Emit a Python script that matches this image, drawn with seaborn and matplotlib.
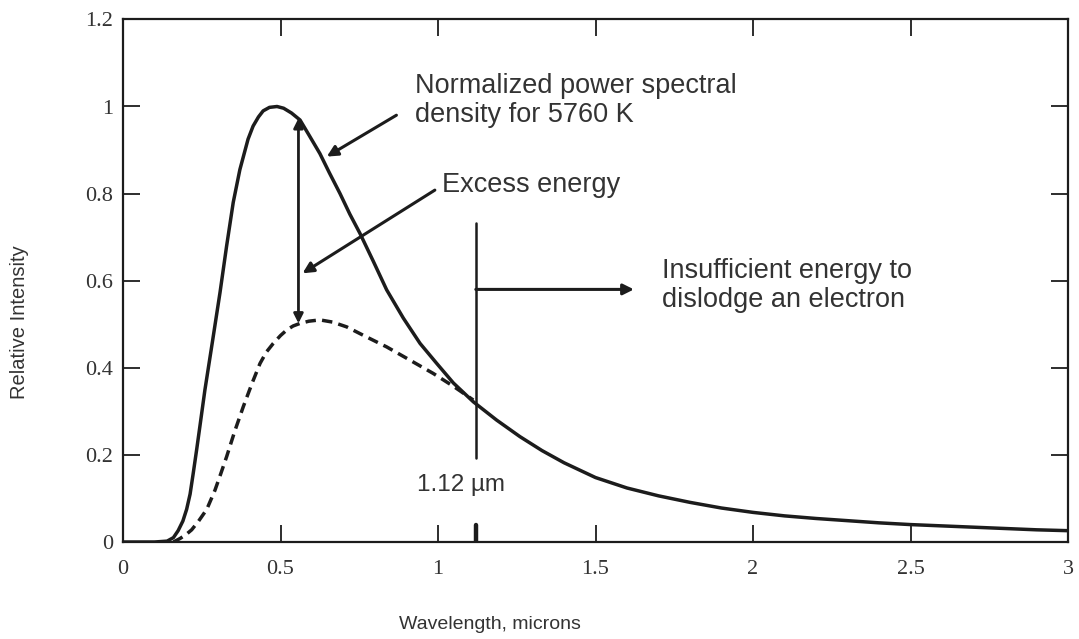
import matplotlib
matplotlib.use("Agg")
import matplotlib.pyplot as plt
import seaborn as sns

# ---- data ----
solid_x = [0.0, 0.05, 0.10, 0.14, 0.16, 0.175, 0.19, 0.202, 0.213, 0.223, 0.234, 0.244,
           0.26, 0.285, 0.308, 0.329, 0.35, 0.371, 0.397, 0.413, 0.43, 0.445, 0.465,
           0.489, 0.51, 0.535, 0.562, 0.59, 0.625, 0.655, 0.689, 0.72, 0.752, 0.795,
           0.837, 0.89, 0.943, 0.996, 1.049, 1.112, 1.186, 1.26, 1.33, 1.4, 1.5, 1.6,
           1.7, 1.8, 1.9, 2.0, 2.1, 2.2, 2.3, 2.4, 2.5, 2.6, 2.7, 2.8, 2.9, 3.0]
solid_y = [0.0, 0.0, 0.0, 0.002, 0.010, 0.026, 0.048, 0.075, 0.11, 0.158, 0.213, 0.265,
           0.349, 0.465, 0.573, 0.68, 0.78, 0.855, 0.925, 0.955, 0.976, 0.99, 0.998,
           1.0, 0.996, 0.985, 0.969, 0.935, 0.892, 0.848, 0.80, 0.753, 0.709, 0.644,
           0.579, 0.514, 0.456, 0.41, 0.365, 0.322, 0.28, 0.242, 0.21, 0.182, 0.148, 0.124,
           0.106, 0.091, 0.078, 0.068, 0.060, 0.054, 0.049, 0.044, 0.040, 0.037, 0.034, 0.031, 0.028, 0.026]

dashed_x = [0.16, 0.181, 0.20, 0.218, 0.24, 0.266, 0.292, 0.31, 0.329, 0.355, 0.382,
            0.41, 0.435, 0.455, 0.477, 0.50, 0.52, 0.54, 0.562, 0.59, 0.625, 0.665,
            0.71, 0.77, 0.837, 0.91, 0.985, 1.05, 1.112]
dashed_y = [0.0, 0.008, 0.017, 0.028, 0.048, 0.075, 0.119, 0.156, 0.196, 0.255, 0.311,
            0.365, 0.41, 0.436, 0.456, 0.474, 0.487, 0.496, 0.502, 0.507, 0.51, 0.505,
            0.494, 0.472, 0.448, 0.418, 0.387, 0.357, 0.326]

x_ticks = [0, 0.5, 1, 1.5, 2, 2.5, 3]
x_tick_labels = ["0", "0.5", "1", "1.5", "2", "2.5", "3"]
y_ticks = [0, 0.2, 0.4, 0.6, 0.8, 1.0, 1.2]
y_tick_labels = ["0", "0.2", "0.4", "0.6", "0.8", "1", "1.2"]

bandgap = 1.12

# ---- style ----
sns.set_theme(style="ticks")
plt.rcParams["font.family"] = ["Liberation Sans", "DejaVu Sans"]

W, H = 1079, 639
fig = plt.figure(figsize=(W / 100, H / 100), dpi=100)
ax = fig.add_axes([123 / W, 1 - 542 / H, 945 / W, 522.6 / H])

line_c = "#1c1c1c"
text_c = "#333333"

sns.lineplot(x=solid_x, y=solid_y, ax=ax, color=line_c, lw=2.5)
sns.lineplot(x=dashed_x, y=dashed_y, ax=ax, color=line_c, lw=2.5,
             linestyle=(0, (3, 1.8)))

ax.set_xlim(0, 3)
ax.set_ylim(0, 1.2)
ax.set_xticks(x_ticks)
ax.set_xticklabels(x_tick_labels, family=["Liberation Serif"], fontsize=16, color="#333333")
ax.set_yticks(y_ticks)
ax.set_yticklabels(y_tick_labels, family=["Liberation Serif"], fontsize=16, color="#333333")
ax.tick_params(axis="both", direction="in", length=12, width=1.3, color=line_c,
               top=True, right=True)
ax.tick_params(axis="x", pad=13)
ax.tick_params(axis="y", pad=7)
for s in ax.spines.values():
    s.set_linewidth(1.6)
    s.set_color(line_c)

ax.set_xlabel("Wavelength, microns", fontsize=14, color=text_c, va="center")
ax.set_ylabel("Relative Intensity", fontsize=14.5, color=text_c)
ax.xaxis.set_label_coords(0.388, -0.157)
ax.yaxis.set_label_coords(-0.0995, 0.42)

# band-gap marker
ax.plot([bandgap, bandgap], [0.192, 0.732], color=line_c, lw=1.8)
ax.plot([bandgap, bandgap], [0.0, 0.038], color=line_c, lw=3.2)

arrow_kw = dict(arrowstyle="-|>", color=line_c, lw=2.2, mutation_scale=16,
                shrinkA=0, shrinkB=0)

ax.annotate("", xy=(1.622, 0.58), xytext=(bandgap, 0.58), arrowprops=arrow_kw)
ax.annotate("", xy=(0.647, 0.885), xytext=(0.868, 0.98), arrowprops=arrow_kw)
ax.annotate("", xy=(0.57, 0.617), xytext=(0.99, 0.808), arrowprops=arrow_kw)
ax.annotate("", xy=(0.557, 0.502), xytext=(0.557, 0.973),
            arrowprops=dict(arrowstyle="<|-|>", color=line_c, lw=2.0,
                            mutation_scale=14, shrinkA=0, shrinkB=0))

ann_fs = 19.5
ax.text(0.927, 1.013, "Normalized power spectral\ndensity for 5760 K", fontsize=ann_fs,
        color=text_c, ha="left", va="center", linespacing=1.15)
ax.text(1.013, 0.82, "Excess energy", fontsize=ann_fs, color=text_c,
        ha="left", va="center")
ax.text(1.711, 0.59, "Insufficient energy to\ndislodge an electron", fontsize=ann_fs,
        color=text_c, ha="left", va="center", linespacing=1.15)
ax.text(1.072, 0.13, "1.12 \u00b5m", fontsize=17.5, color=text_c,
        ha="center", va="center")

fig.savefig("out.png", dpi=100)
